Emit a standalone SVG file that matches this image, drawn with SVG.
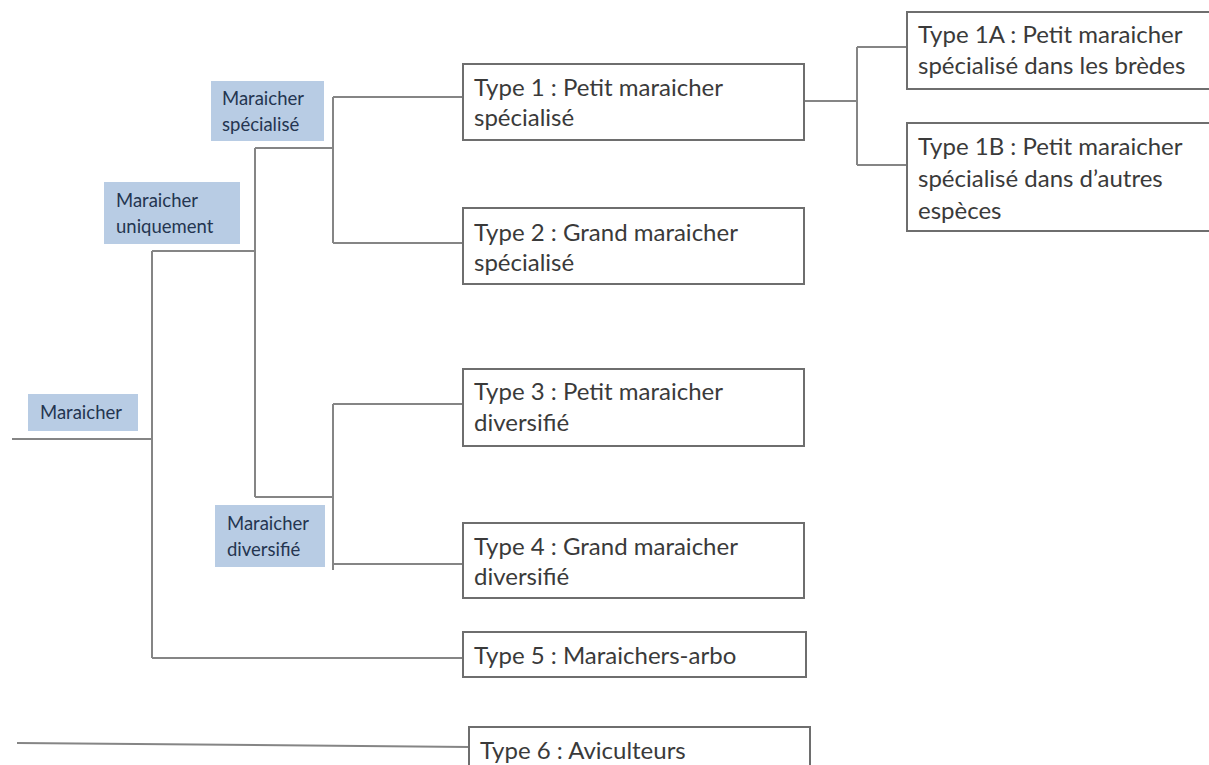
<svg xmlns="http://www.w3.org/2000/svg" width="1209" height="765" viewBox="0 0 1209 765">
<style>
.ln{stroke:#858585;stroke-width:2;fill:none}
.box{fill:#fff;stroke:#6e6e6e;stroke-width:2}
.lab{fill:#b8cce4;stroke:none}
.t{font-family:Lato,"Open Sans",sans-serif;font-size:24px;fill:#3a3a3a}
.s{font-family:Lato,"Open Sans",sans-serif;font-size:18.5px;fill:#243550}
</style>
<rect width="1209" height="765" fill="#fff"/>
<g id="connectors">
<path class="ln" d="M12,439H152M152,251V658M152,251H255M255,148V497M255,148H333M255,497H333M333,97V243M333,97H463M333,243H463M333,404V570M333,404H463M333,564H463M152,658H463M804,101H857M857,47V165M857,47H907M857,165H907"/>
<path class="ln" d="M17,743L469,747"/>
</g>
<g id="lab-maraicher"><rect class="lab" x="28" y="394" width="110" height="37"/><text class="s" x="40" y="419">Maraicher</text></g>
<g id="lab-uniquement"><rect class="lab" x="104" y="182" width="136" height="62"/><text class="s" x="116" y="207">Maraicher</text><text class="s" x="116" y="233">uniquement</text></g>
<g id="lab-specialise"><rect class="lab" x="211" y="81" width="113" height="60"/><text class="s" x="222" y="105">Maraicher</text><text class="s" x="222" y="131">spécialisé</text></g>
<g id="lab-diversifie"><rect class="lab" x="215" y="505" width="110" height="62"/><text class="s" x="227" y="530">Maraicher</text><text class="s" x="227" y="556">diversifié</text></g>
<g id="type1"><rect class="box" x="463" y="64" width="341" height="76"/><text class="t" x="474" y="96">Type 1 : Petit maraicher</text><text class="t" x="474" y="126">spécialisé</text></g>
<g id="type2"><rect class="box" x="463" y="208" width="341" height="76"/><text class="t" x="474" y="241">Type 2 : Grand maraicher</text><text class="t" x="474" y="271">spécialisé</text></g>
<g id="type3"><rect class="box" x="463" y="369" width="341" height="77"/><text class="t" x="474" y="400">Type 3 : Petit maraicher</text><text class="t" x="474" y="431">diversifié</text></g>
<g id="type4"><rect class="box" x="463" y="523" width="341" height="75"/><text class="t" x="474" y="555">Type 4 : Grand maraicher</text><text class="t" x="474" y="585">diversifié</text></g>
<g id="type5"><rect class="box" x="463" y="632" width="343" height="45"/><text class="t" x="474" y="664">Type 5 : Maraichers-arbo</text></g>
<g id="type6"><rect class="box" x="469" y="727" width="341" height="50"/><text class="t" x="480" y="759">Type 6 : Aviculteurs</text></g>
<g id="type1a"><rect class="box" x="907" y="12" width="310" height="77"/><text class="t" x="918" y="43">Type 1A : Petit maraicher</text><text class="t" x="918" y="74">spécialisé dans les brèdes</text></g>
<g id="type1b"><rect class="box" x="907" y="123" width="310" height="108"/><text class="t" x="918" y="155">Type 1B : Petit maraicher</text><text class="t" x="918" y="187">spécialisé dans d’autres</text><text class="t" x="918" y="219">espèces</text></g>
</svg>
